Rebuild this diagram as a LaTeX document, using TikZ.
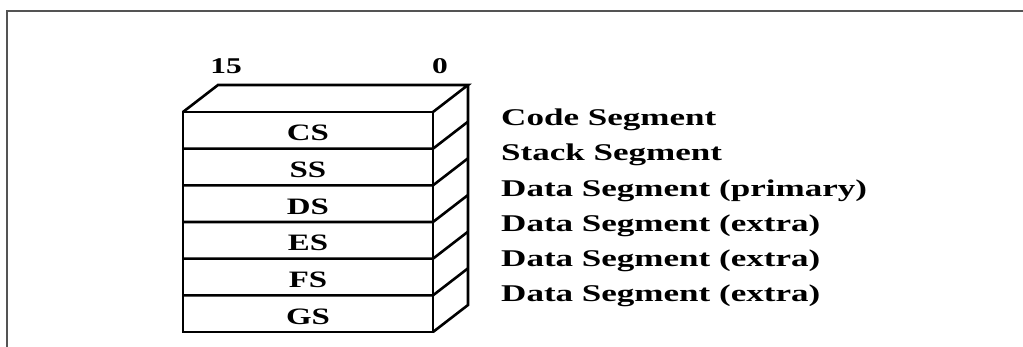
\documentclass[tikz,border=0pt]{standalone}
\usepackage{fontspec}
\setmainfont{Liberation Serif}
\newfontfamily\regfont{Liberation Serif}[FakeStretch=1.4]
\newfontfamily\notefont{Liberation Serif}[FakeStretch=1.46]
\begin{document}
\begin{tikzpicture}[x=1pt,y=-1pt,
  frameline/.style={draw=black!67,line width=2pt},
  regline/.style={draw=black,line width=2.6pt,line join=miter},
  bitlabel/.style={anchor=base,inner sep=0pt,font=\regfont\bfseries\fontsize{22.5}{27}\selectfont},
  reglabel/.style={anchor=base,inner sep=0pt,font=\regfont\bfseries\fontsize{23.5}{27}\selectfont},
  seglabel/.style={anchor=base west,inner sep=0pt,font=\notefont\bfseries\fontsize{24}{28}\selectfont}]
  \useasboundingbox (0,0) rectangle (1023,347);
  % open frame: top and left edges
  \draw[frameline] (1023,11) -- (7,11) -- (7,347);

  % register stack geometry
  \def\xl{183}\def\xr{433}\def\yt{112}\def\rh{36.667}
  \def\dx{35}\def\dy{27}
  % top face
  \draw[regline] (\xl,\yt) -- (\xl+\dx,\yt-\dy) -- (\xr+\dx,\yt-\dy) -- (\xr,\yt);
  % right face outline
  \draw[regline] (\xr+\dx,\yt-\dy) -- (\xr+\dx,\yt+6*\rh-\dy) -- (\xr,\yt+6*\rh);
  % front face
  \draw[regline] (\xl,\yt) rectangle (\xr,\yt+6*\rh);
  \foreach \k in {1,...,5}{
    \draw[regline] (\xl,\yt+\k*\rh) -- (\xr,\yt+\k*\rh) -- (\xr+\dx,\yt+\k*\rh-\dy);
  }

  % bit numbers
  \node[bitlabel] (b15) at (226,74) {15};
  \node[bitlabel] (b0) at (440,74) {0};

  % register names
  \foreach \r [count=\i from 0] in {CS,SS,DS,ES,FS,GS}{
    \node[reglabel] (r\r) at ({(\xl+\xr)/2},\yt+\i*\rh+\rh/2+10.5) {\r};
  }

  % descriptions
  \node[seglabel] (dCS) at (501,126) {Code Segment};
  \node[seglabel] (dSS) at (501,161) {Stack Segment};
  \node[seglabel] (dDS) at (501,197) {Data Segment (primary)};
  \node[seglabel] (dES) at (501,232) {Data Segment (extra)};
  \node[seglabel] (dFS) at (501,267) {Data Segment (extra)};
  \node[seglabel] (dGS) at (501,302) {Data Segment (extra)};
\end{tikzpicture}
\end{document}
